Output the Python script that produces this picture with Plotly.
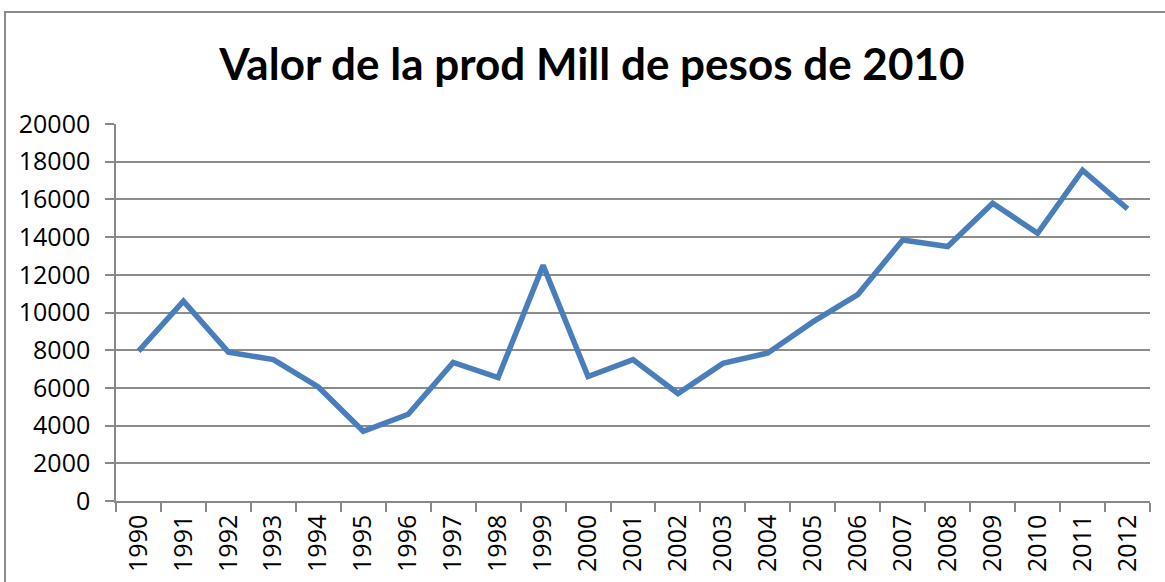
import plotly.graph_objects as go

years = [str(y) for y in range(1990, 2013)]
values = [7950, 10600, 7900, 7500, 6050, 3700, 4600, 7350, 6550, 12500, 6600,
          7500, 5700, 7300, 7850, 9500, 10950, 13850, 13500, 15800, 14200, 17550, 15500]
y_ticks = list(range(0, 20001, 2000))

W, H = 1165, 582
L, R, T, B = 116, 15, 124, 81
pw, ph = W - L - R, H - T - B

fig = go.Figure()
fig.add_trace(go.Scatter(x=years, y=values, mode="lines",
                         line=dict(color="#4a7ebb", width=5.5), hoverinfo="x+y"))

fig.update_layout(
    width=W, height=H,
    margin=dict(l=L, r=R, t=T, b=B, autoexpand=False),
    paper_bgcolor="white", plot_bgcolor="white",
    showlegend=False,
    font=dict(family="Open Sans", size=25, color="black"),
    title=dict(text="<b>Valor de la prod Mill de pesos de 2010</b>",
               x=0.508, xanchor="center", y=1 - 65 / H, yanchor="middle",
               font=dict(family="Lato", size=44, color="black")),
    xaxis=dict(type="category", tickangle=-90, tickson="boundaries",
               range=[-0.5, len(years) - 0.5], automargin=False,
               ticks="outside", ticklen=9, tickcolor="#888888", tickwidth=1.5,
               showline=True, linecolor="#888888", linewidth=1.5,
               showgrid=False, zeroline=False, ticklabelstandoff=2,
               tickfont=dict(family="Open Sans", size=25)),
    yaxis=dict(range=[0, 20000], tickvals=y_ticks, ticktext=[str(v) for v in y_ticks],
               automargin=False,
               ticks="outside", ticklen=9, tickcolor="#888888", tickwidth=1.5,
               showline=True, linecolor="#888888", linewidth=1.5,
               showgrid=True, gridcolor="#8c8c8c", gridwidth=1.5,
               zeroline=False, ticklabelstandoff=10,
               tickfont=dict(family="Open Sans", size=25)),
)

# outer chart frame
fig.add_shape(type="rect", xref="paper", yref="paper",
              x0=(5 - L) / pw, x1=1.2, y0=-0.6, y1=(H - B - 12) / ph,
              line=dict(color="#8a8a8a", width=2), fillcolor="rgba(0,0,0,0)", layer="below")

fig.write_html("out.html", config={"displayModeBar": False},
               post_script="document.body.style.margin='0';document.body.style.overflow='hidden';")
